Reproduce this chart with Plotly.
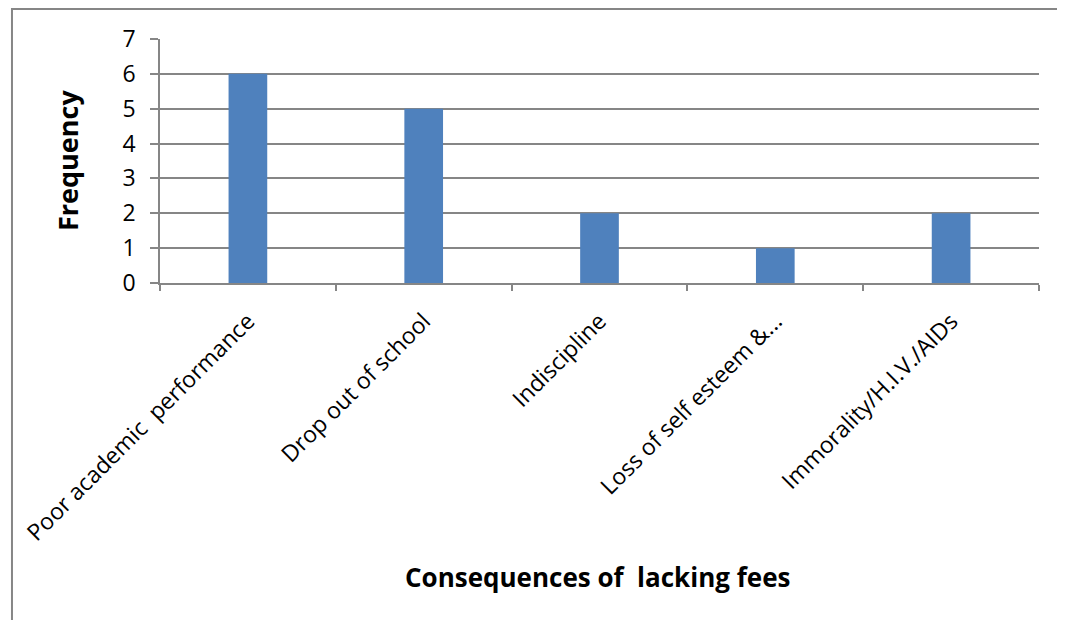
import plotly.graph_objects as go

categories = ["Poor academic  performance", "Drop out of school", "Indiscipline",
              "Loss of self esteem &...", "Immorality/H.I.V./AIDs"]
frequency = [6, 5, 2, 1, 2]
y_ticks = [0, 1, 2, 3, 4, 5, 6, 7]

grid = "#868686"
fnt = "Open Sans, sans-serif"
fig = go.Figure(go.Bar(x=categories, y=frequency, marker=dict(color="#4F81BD", line=dict(width=0))))

fig.update_layout(
    width=1057, height=612,
    margin=dict(l=152, r=26, t=31, b=337),
    paper_bgcolor="white", plot_bgcolor="white",
    bargap=0.78,
    showlegend=False,
    font=dict(family=fnt, color="black", size=23),
    xaxis=dict(
        type="category", tickangle=-45, tickson="boundaries",
        ticks="outside", ticklen=6, tickcolor=grid, tickwidth=1.5,
        showline=True, linecolor=grid, linewidth=1.5, showgrid=False,
        tickfont=dict(size=23), ticklabelstandoff=14,
    ),
    yaxis=dict(
        range=[0, 7], tickvals=y_ticks, ticks="outside", ticklen=8, tickcolor=grid, tickwidth=1.5,
        showline=True, linecolor=grid, linewidth=1.5,
        showgrid=True, gridcolor=grid, gridwidth=1.5, zeroline=False,
        tickfont=dict(size=23), ticklabelstandoff=10,
    ),
    annotations=[
        dict(text="<b>Consequences of  lacking fees</b>", xref="paper", yref="paper",
             x=0.498, y=-1.205, xanchor="center", yanchor="middle", showarrow=False,
             font=dict(size=26, family=fnt)),
        dict(text="<b>Frequency</b>", xref="paper", yref="paper", textangle=-90,
             x=-0.1058, y=0.5, xanchor="center", yanchor="middle", showarrow=False,
             font=dict(size=27, family=fnt)),
    ],
    shapes=[dict(type="rect", xref="paper", yref="paper",
                 x0=-0.1684, x1=1.1, y0=-1.4, y1=1.123,
                 line=dict(color=grid, width=2), fillcolor="rgba(0,0,0,0)", layer="below")],
)
fig.write_html("out.html")
